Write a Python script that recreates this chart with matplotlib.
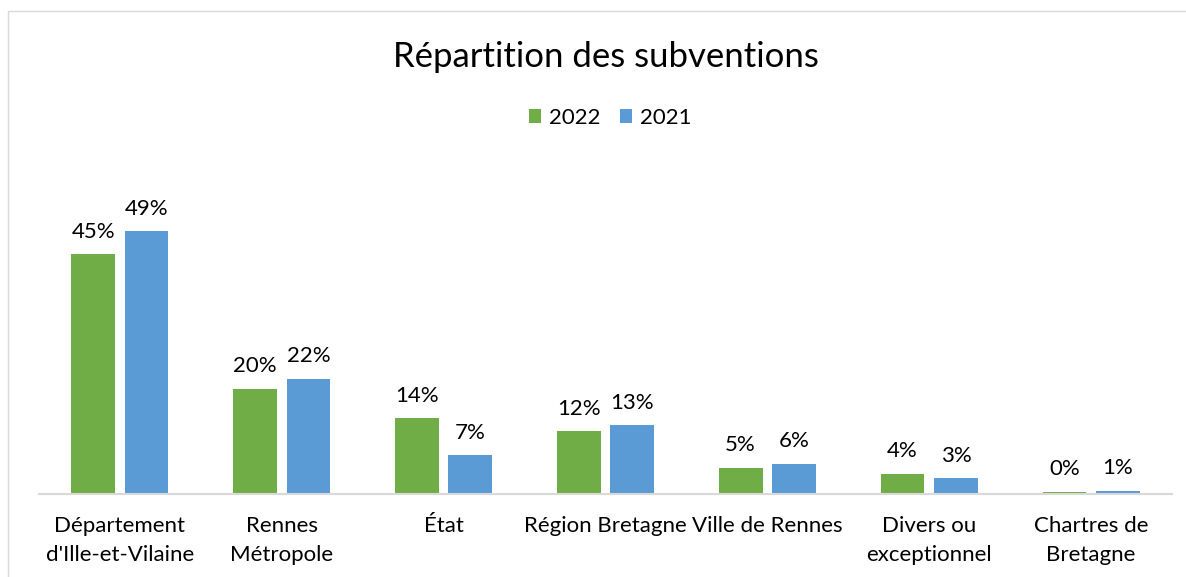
import matplotlib
matplotlib.use("Agg")
import matplotlib.pyplot as plt
import numpy as np
from matplotlib.patches import Rectangle

categories = ["Département\nd'Ille-et-Vilaine", "Rennes\nMétropole", "État",
              "Région Bretagne", "Ville de Rennes", "Divers ou\nexceptionnel",
              "Chartres de\nBretagne"]
values_2022 = [44.7, 19.6, 14.1, 11.7, 4.9, 3.8, 0.4]
values_2021 = [49.0, 21.5, 7.2, 12.8, 5.6, 2.9, 0.6]
series_names = ["2022", "2021"]
colors = ["#70AD47", "#5B9BD5"]

plt.rcParams['font.family'] = ['Lato', 'DejaVu Sans']

W, H = 1186, 577
fig = plt.figure(figsize=(W / 100, H / 100), dpi=100)

# outer frame
fig.patches.append(Rectangle((8 / W, -0.05), 1.2, 1 - 11 / H + 0.05, transform=fig.transFigure,
                             fill=False, edgecolor="#D9D9D9", linewidth=1.0))

left, right = 39 / W, 1172 / W
bottom, top = (H - 494) / H, (H - 150) / H
ax = fig.add_axes([left, bottom, right - left, top - bottom])

x = np.arange(len(categories))
bw = 0.27
off = 0.165
for vals, name, col, sgn in [(values_2022, series_names[0], colors[0], -1),
                             (values_2021, series_names[1], colors[1], 1)]:
    bars = ax.bar(x + sgn * off, vals, width=bw, color=col, label=name, zorder=2)
    for b, v in zip(bars, vals):
        ax.annotate(f"{v:.0f}%", (b.get_x() + b.get_width() / 2, v), xytext=(0, 9),
                    textcoords="offset points", ha="center", va="bottom", fontsize=16,
                    color="#000000")

ax.set_xlim(-0.5, len(categories) - 0.5)
ax.set_ylim(0, 344 / 5.367)
ax.set_yticks([])
ax.set_xticks(x)
ax.set_xticklabels(categories, fontsize=16, linespacing=1.55)
ax.tick_params(axis='x', length=0, pad=16)
for s in ["top", "right", "left"]:
    ax.spines[s].set_visible(False)
ax.spines["bottom"].set_color("#D9D9D9")
ax.spines["bottom"].set_linewidth(1.5)
ax.set_facecolor("none")

fig.text(606 / W, 1 - 57 / H, "Répartition des subventions", ha="center", va="center",
         fontsize=25, color="#000000")
handles, labels = ax.get_legend_handles_labels()
fig.legend(handles, labels, loc="center", bbox_to_anchor=(610 / W, 1 - 118 / H), ncol=2,
           frameon=False, fontsize=16, handlelength=0.55, handleheight=0.55,
           handletextpad=0.35, columnspacing=0.9)

fig.savefig("out.png", dpi=100)
